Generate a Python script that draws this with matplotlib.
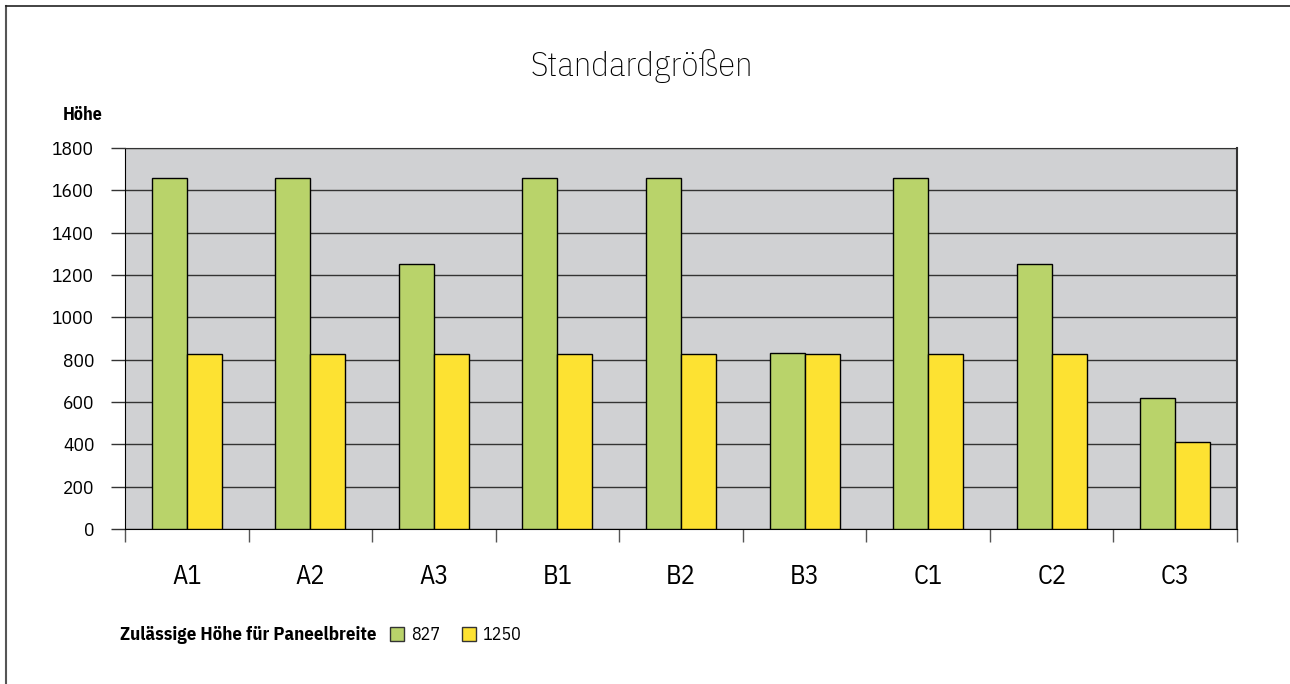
import matplotlib
matplotlib.use('Agg')
import matplotlib.pyplot as plt
import numpy as np
from matplotlib.lines import Line2D
from matplotlib.patches import Patch

plt.rcParams['font.family'] = ['IBM Plex Sans Condensed', 'DejaVu Sans']

categories = ['A1', 'A2', 'A3', 'B1', 'B2', 'B3', 'C1', 'C2', 'C3']
width_827 = [1660, 1660, 1250, 1660, 1660, 830, 1660, 1250, 620]
width_1250 = [827, 827, 827, 827, 827, 827, 827, 827, 410]
series_labels = ['827', '1250']
y_ticks = [0, 200, 400, 600, 800, 1000, 1200, 1400, 1600, 1800]

green = '#b9d36a'
yellow = '#fde232'
bg = '#d0d1d3'

fig = plt.figure(figsize=(12.9, 6.84), dpi=100)
ax = fig.add_axes([125 / 1290, 1 - 529 / 684, 1112 / 1290, 381 / 684])
ax.set_facecolor(bg)

x = np.arange(len(categories))
bw = 0.283
ax.bar(x - bw / 2, width_827, bw, color=green, edgecolor='black', linewidth=1, zorder=3)
ax.bar(x + bw / 2, width_1250, bw, color=yellow, edgecolor='black', linewidth=1, zorder=3)

ax.set_xlim(-0.5, len(categories) - 0.5)
ax.set_ylim(0, 1800)
ax.set_yticks(y_ticks)
ax.yaxis.grid(True, color='#333333', linewidth=1)
ax.set_axisbelow(True)
ax.tick_params(axis='y', length=10, width=1, color='#333333', labelsize=14, pad=12)

# category labels centred, ticks between categories
ax.set_xticks(x)
ax.set_xticklabels(categories, fontsize=19)
ax.tick_params(axis='x', length=0, pad=25)
ax.set_xticks(np.arange(-0.5, len(categories)), minor=True)
ax.tick_params(axis='x', which='minor', length=9, width=1, color='#555555')

for s in ['top', 'right']:
    ax.spines[s].set_color('#333333')
for s in ['left', 'bottom']:
    ax.spines[s].set_color('black')
ax.spines['right'].set_linewidth(1.5)

fig.text(642 / 1290, 1 - 66 / 684, 'Standardgrößen', fontsize=25, va='center',
         ha='center', fontweight='light')
fig.text(63 / 1290, 1 - 115 / 684, 'Höhe', fontsize=13, fontweight='bold', va='center')

fig.text(120 / 1290, 1 - 635 / 684, 'Zulässige Höhe für Paneelbreite', fontsize=13.5,
         fontweight='bold', va='center')
handles = [Patch(facecolor=green, edgecolor='#333333'), Patch(facecolor=yellow, edgecolor='#333333')]
fig.legend(handles, series_labels, loc='center left', bbox_to_anchor=(390 / 1290, 1 - 635 / 684),
           ncol=2, frameon=False, fontsize=13, handlelength=0.8, handleheight=0.8,
           handletextpad=0.35, columnspacing=1.2, borderaxespad=0, borderpad=0)

# frame of the picture
fig.add_artist(Line2D([6 / 1290, 6 / 1290], [0, 1 - 6 / 684], color='#555555', linewidth=1.5))
fig.add_artist(Line2D([6 / 1290, 1], [1 - 6 / 684, 1 - 6 / 684], color='#222222', linewidth=1.2))

fig.savefig('out.png', dpi=100)
